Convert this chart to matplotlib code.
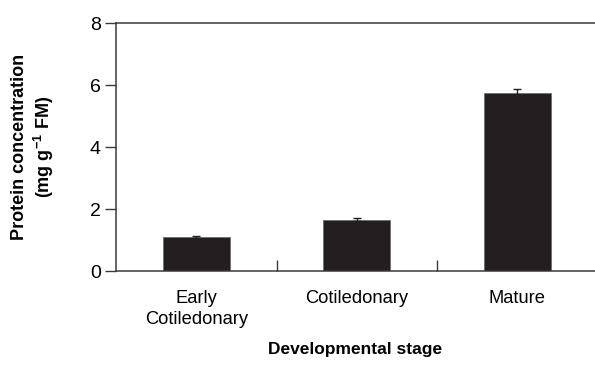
import numpy as np
import matplotlib
matplotlib.use('Agg')
import matplotlib.pyplot as plt

plt.rcParams['font.family'] = ['Liberation Sans Narrow', 'Liberation Sans', 'DejaVu Sans']
plt.rcParams['mathtext.fontset'] = 'custom'
plt.rcParams['mathtext.rm'] = 'Liberation Sans'
plt.rcParams['mathtext.bf'] = 'Liberation Sans:bold'

stages = ['Early\nCotiledonary', 'Cotiledonary', 'Mature']
protein = [1.10, 1.65, 5.74]
protein_err = [0.04, 0.05, 0.13]
yticks = [0, 2, 4, 6, 8]

spine_col = '#3a3a3a'
bar_col = '#231f20'

fig = plt.figure(figsize=(5.95, 3.66), dpi=100)
ax = fig.add_axes([116 / 595, 95 / 366, 479 / 595, 248 / 366])

x = np.arange(len(stages))
ax.bar(x, protein, width=0.42, color=bar_col, edgecolor='#6e6e6e', linewidth=0.6,
       yerr=protein_err, error_kw=dict(ecolor=bar_col, elinewidth=1.0, capsize=3, capthick=1.0),
       zorder=2)

ax.set_xlim(-0.5, 2.484)
ax.set_ylim(0, 8)
ax.set_yticks(yticks)
ax.set_yticklabels([str(t) for t in yticks], fontsize=14)
ax.tick_params(axis='y', direction='out', length=8, width=1.0, color=spine_col, pad=3)

ax.set_xticks(x)
ax.set_xticklabels(stages, fontsize=13.2, linespacing=1.3)
ax.tick_params(axis='x', which='major', length=0, pad=14)
ax.set_xticks([0.5, 1.5], minor=True)
ax.tick_params(axis='x', which='minor', direction='in', length=8, width=1.0, color=spine_col)

for side in ['left', 'bottom', 'top']:
    ax.spines[side].set_color(spine_col)
    ax.spines[side].set_linewidth(1.1)
ax.spines['right'].set_visible(False)

ax.set_xlabel('Developmental stage', fontsize=12.5, fontweight='bold', labelpad=10)
ax.set_ylabel('Protein concentration\n(mg g$^{\\mathbf{-1}}$ FM)', fontsize=13,
              fontweight='bold', labelpad=24, linespacing=1.25)

fig.savefig('out.png', dpi=100)
